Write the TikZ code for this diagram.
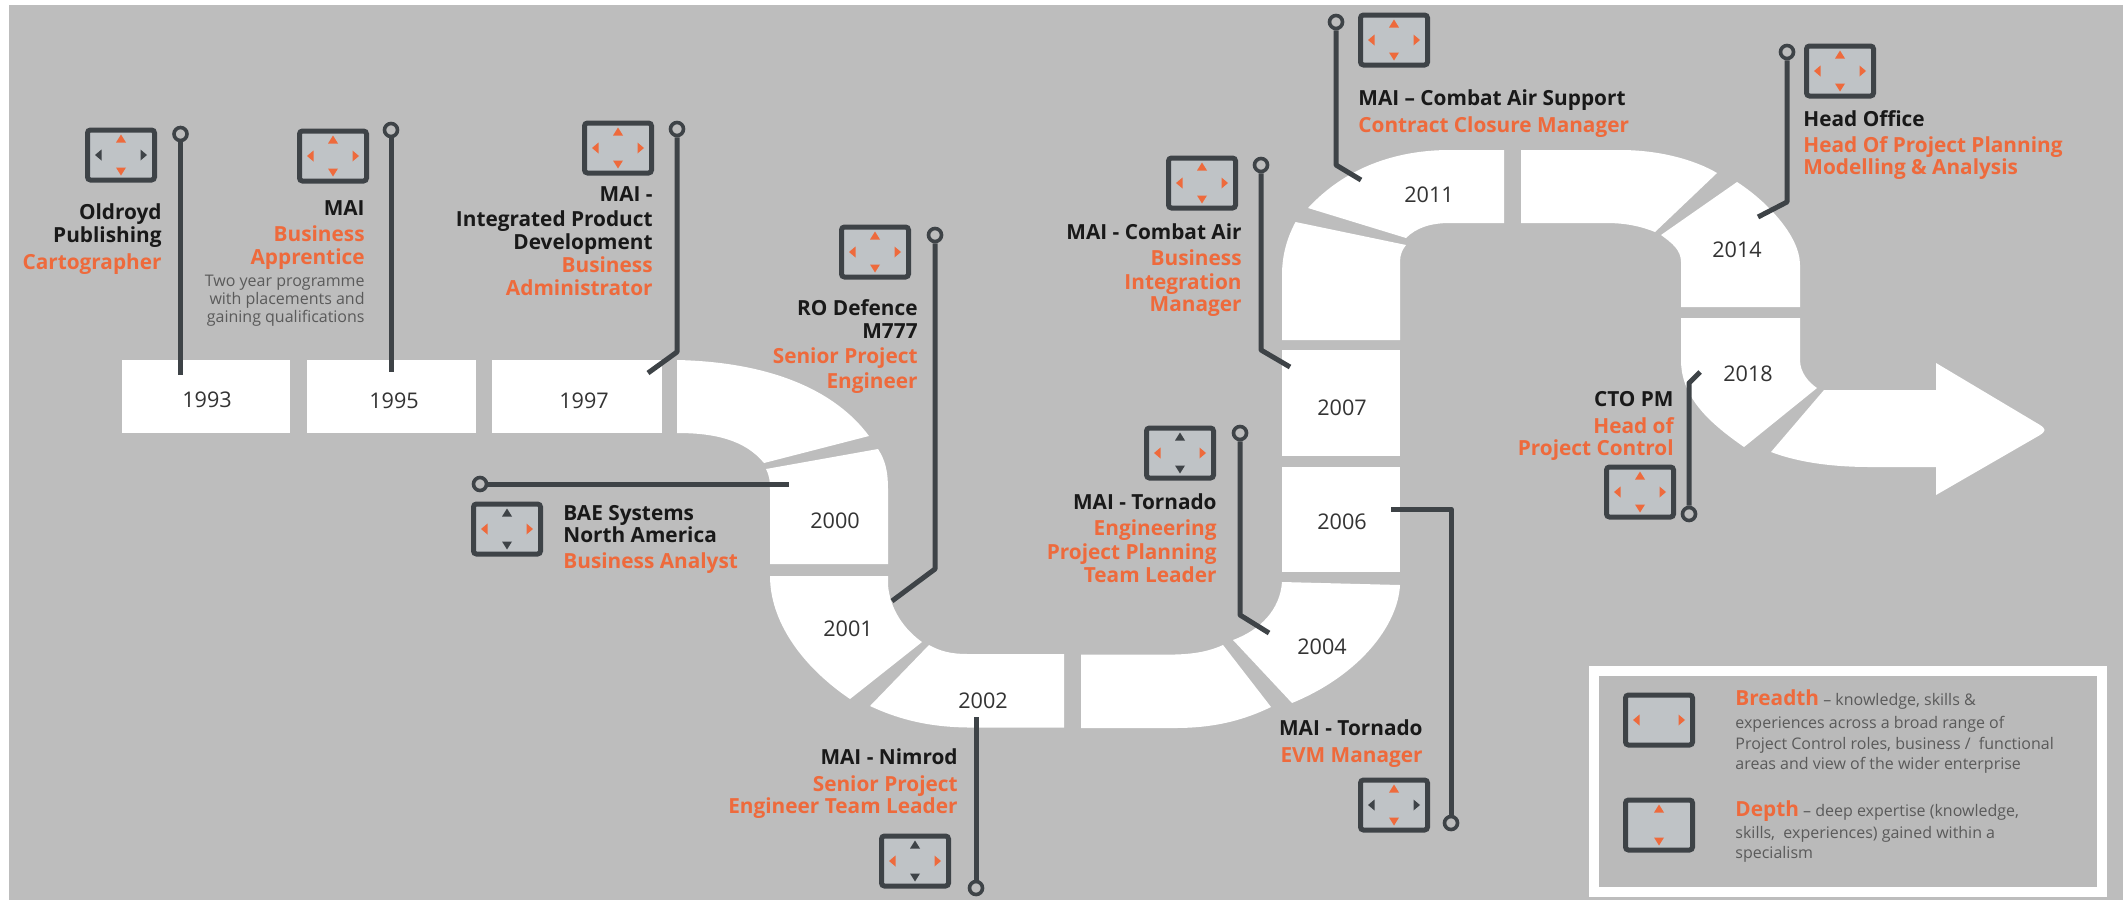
\documentclass[tikz,border=0pt]{standalone}
\usepackage{fontspec}
\setmainfont{Open Sans}
\definecolor{bggray}{HTML}{BDBDBD}
\definecolor{lgfill}{HTML}{BABABA}
\definecolor{dark}{HTML}{3E4347}
\definecolor{orng}{HTML}{EE6A3C}
\definecolor{icofill}{HTML}{BFC3C6}
\definecolor{small}{HTML}{5A5A5A}
\newcounter{lb}
\tikzset{
  seg/.style={fill=white,draw=none},
  year/.style={font=\fontsize{10.8}{12}\selectfont,text=black!80,inner sep=0pt,yshift=-0.8pt},
  bk/.style={font=\fontsize{10.4}{11}\bfseries\selectfont,text=black!90,inner sep=0pt,yshift=-0.5pt},
  og/.style={font=\fontsize{10.4}{11}\bfseries\selectfont,text=orng,inner sep=0pt,yshift=-0.5pt},
  sm/.style={font=\fontsize{8}{9}\selectfont,text=small,inner sep=0pt},
  lg/.style={font=\fontsize{8}{9}\selectfont,text=small,inner sep=0pt},
  conn/.style={draw=dark,line width=2.5pt,line join=round},
  pin/.style={circle,draw=dark,line width=1.8pt,fill=bggray,minimum size=6.5pt,inner sep=0pt},
  ico/.style={rectangle,draw=dark,line width=2.5pt,rounded corners=1.5pt,fill=icofill,minimum width=33.5pt,minimum height=25pt,inner sep=0pt},
}
\newcommand{\txtR}[4]{\stepcounter{lb}\node[#3,anchor=mid east] (t\thelb) at (#1,#2) {#4};}
\newcommand{\txtL}[4]{\stepcounter{lb}\node[#3,anchor=mid west] (t\thelb) at (#1,#2) {#4};}
\newcommand{\triTB}[2]{%
  \fill[#2] ($(#1.center)+(-5,-12.5)$) -- ($(#1.center)+(5,-12.5)$) -- ($(#1.center)+(0,-20.5)$) -- cycle;
  \fill[#2] ($(#1.center)+(-5,12.5)$) -- ($(#1.center)+(5,12.5)$) -- ($(#1.center)+(0,20.5)$) -- cycle;
}
\newcommand{\triLR}[2]{%
  \fill[#2] ($(#1.center)+(-19.5,-5.5)$) -- ($(#1.center)+(-19.5,5.5)$) -- ($(#1.center)+(-26,0)$) -- cycle;
  \fill[#2] ($(#1.center)+(19.5,-5.5)$) -- ($(#1.center)+(19.5,5.5)$) -- ($(#1.center)+(26,0)$) -- cycle;
}
% icon: name, x, y, colour of top/bottom, colour of left/right
\newcommand{\icon}[5]{%
  \node[ico] (#1) at (#2,#3) {};
  \triTB{#1}{#4}
  \triLR{#1}{#5}
}
\usetikzlibrary{calc}
\begin{document}
\begin{tikzpicture}[x=0.5pt,y=-0.5pt]
\useasboundingbox (0,0) rectangle (2123,900);
\fill[white] (0,0) rectangle (2123,900);
\fill[bggray] (9,5) rectangle (2123,900);

% ribbon
\fill[seg] (122,360) rectangle (290,433);
\fill[seg] (307,360) rectangle (476,433);
\fill[seg] (492,360) rectangle (662,433);
\fill[seg] (677,360) .. controls (770,362) and (835,390) .. (869,436) -- (764,463) .. controls (745,440) and (715,433) .. (677,433) -- cycle;
\fill[seg] (766,469) -- (878,449) .. controls (885,460) and (888,470) .. (888,490) -- (888,564) -- (770,564) -- (770,490) .. controls (770,480) and (769,475) .. (766,469) -- cycle;
\fill[seg] (770,576) -- (888,576) -- (888,585) .. controls (890,610) and (905,630) .. (922,642) -- (850,699) .. controls (800,665) and (770,620) .. (770,576) -- cycle;
\fill[seg] (929,645) .. controls (940,651) and (950,654) .. (968,654) -- (1064,654) -- (1064,727.5) -- (968,727.5) .. controls (930,727) and (900,720) .. (870,706) -- cycle;
\fill[seg] (1081,654.5) -- (1175,654.5) .. controls (1195,654) and (1210,651) .. (1223,645) -- (1271,707) .. controls (1240,722) and (1210,728) .. (1175,728) -- (1081,728) -- cycle;
\fill[seg] (1282,582) -- (1400,585) .. controls (1398,625) and (1360,675) .. (1292,703) -- (1233,640) .. controls (1260,630) and (1280,610) .. (1282,582) -- cycle;
\fill[seg] (1282,467) rectangle (1400,572);
\fill[seg] (1282,350) rectangle (1400,456);
\fill[seg] (1282,340) -- (1400,340) -- (1400,262) .. controls (1400,255) and (1402,250) .. (1406,245) -- (1295.5,222) .. controls (1287,238) and (1282,255) .. (1282,275) -- cycle;
\fill[seg] (1308,208) .. controls (1345,168) and (1395,150) .. (1450,150) -- (1504,150) -- (1504,223) -- (1450,223) .. controls (1430,223) and (1416,228) .. (1406,238) -- cycle;
\fill[seg] (1521,150) -- (1620,150) .. controls (1660,150) and (1695,160) .. (1717,173) -- (1655,232) .. controls (1640,226) and (1625,223) .. (1606,223) -- (1521,223) -- cycle;
\fill[seg] (1737,182) .. controls (1765,200) and (1800,235) .. (1800,265) -- (1800,307) -- (1681,307) -- (1681,262) .. controls (1681,250) and (1672,243) .. (1661,235) -- cycle;
\fill[seg] (1681,318) -- (1800,318) -- (1800,360) .. controls (1800,372) and (1808,382) .. (1817,388) -- (1744,447) .. controls (1705,420) and (1681,395) .. (1681,360) -- cycle;
\fill[seg] (1824,390) -- (1936,390) -- (1936,363) -- (2040,425) .. controls (2046,429) and (2046,431) .. (2040,435) -- (1936,495) -- (1936,467) -- (1870,467) .. controls (1835,467) and (1800,463) .. (1771,452) -- cycle;

% year labels
\node[year] (y1993) at (207,398) {1993};
\node[year] (y1995) at (394,399) {1995};
\node[year] (y1997) at (584,399) {1997};
\node[year] (y2000) at (835,519) {2000};
\node[year] (y2001) at (848,627) {2001};
\node[year] (y2002) at (983,699) {2002};
\node[year] (y2004) at (1322,645) {2004};
\node[year] (y2006) at (1342,520) {2006};
\node[year] (y2007) at (1342,406) {2007};
\node[year] (y2011) at (1429,193) {2011};
\node[year] (y2014) at (1737,248) {2014};
\node[year] (y2018) at (1748,372) {2018};

% icons
\icon{iOld}{121}{155}{orng}{dark}
\icon{iMai}{333}{156}{orng}{orng}
\icon{iIpd}{618}{148}{orng}{orng}
\icon{iRo}{875}{252}{orng}{orng}
\icon{iBae}{507}{529}{dark}{orng}
\icon{iNim}{915}{861}{dark}{orng}
\icon{iTor}{1180}{453}{dark}{orng}
\icon{iCa}{1202}{183}{orng}{orng}
\icon{iCas}{1394}{40}{orng}{orng}
\icon{iHo}{1840}{71}{orng}{orng}
\icon{iCto}{1640}{492}{orng}{orng}
\icon{iEvm}{1394}{805}{orng}{dark}

% connectors
\node[pin] (p1) at (180.5,134) {};
\coordinate (e1) at (180.5,375);
\draw[conn] (p1) -- (e1);
\node[pin] (p2) at (391,130) {};
\coordinate (e2) at (391,372);
\draw[conn] (p2) -- (e2);
\node[pin] (p3) at (677,129) {};
\coordinate (b3) at (677,352);
\coordinate (e3) at (648,373);
\draw[conn] (p3) -- (b3) -- (e3);
\node[pin] (p4) at (935,235) {};
\coordinate (b4) at (935,569);
\coordinate (e4) at (892,601);
\draw[conn] (p4) -- (b4) -- (e4);
\node[pin] (p5) at (480,484) {};
\coordinate (e5) at (789,484);
\draw[conn] (p5) -- (e5);
\node[pin] (p6) at (976,888) {};
\coordinate (e6) at (976,717);
\draw[conn] (p6) -- (e6);
\node[pin] (p7) at (1261,165) {};
\coordinate (b7) at (1261,350);
\coordinate (e7) at (1290,367);
\draw[conn] (p7) -- (b7) -- (e7);
\node[pin] (p8) at (1336,22) {};
\coordinate (b8) at (1336,165);
\coordinate (e8) at (1361,180);
\draw[conn] (p8) -- (b8) -- (e8);
\node[pin] (p9) at (1787,52) {};
\coordinate (b9) at (1787,202);
\coordinate (e9) at (1758,217);
\draw[conn] (p9) -- (b9) -- (e9);
\node[pin] (p10) at (1689,514) {};
\coordinate (b10) at (1689,383);
\coordinate (e10) at (1700,372);
\draw[conn] (p10) -- (b10) -- (e10);
\node[pin] (p11) at (1240,433) {};
\coordinate (b11) at (1240,615);
\coordinate (e11) at (1269,633);
\draw[conn] (p11) -- (b11) -- (e11);
\node[pin] (p12) at (1451,823) {};
\coordinate (b12) at (1451,509);
\coordinate (e12) at (1391,509);
\draw[conn] (p12) -- (b12) -- (e12);

% labels
\txtR{162}{213}{bk}{Oldroyd}
\txtR{162}{236}{bk}{Publishing}
\txtR{162}{263}{og}{Cartographer}
\txtR{365}{209}{bk}{MAI}
\txtR{365}{235}{og}{Business}
\txtR{365}{258}{og}{Apprentice}
\txtR{365}{281}{sm}{Two year programme}
\txtR{365}{299}{sm}{with placements and}
\txtR{365}{317}{sm}{gaining qualifications}
\txtR{653}{195}{bk}{MAI -}
\txtR{653}{220}{bk}{Integrated Product}
\txtR{653}{243}{bk}{Development}
\txtR{653}{266}{og}{Business}
\txtR{653}{289}{og}{Administrator}
\txtR{918}{309}{bk}{RO Defence}
\txtR{918}{332}{bk}{M777}
\txtR{918}{357}{og}{Senior Project}
\txtR{918}{382}{og}{Engineer}
\txtL{563}{514}{bk}{BAE Systems}
\txtL{563}{536}{bk}{North America}
\txtL{563}{562}{og}{Business Analyst}
\txtR{958}{758}{bk}{MAI - Nimrod}
\txtR{958}{785}{og}{Senior Project}
\txtR{958}{807}{og}{Engineer Team Leader}
\txtR{1423}{729}{bk}{MAI - Tornado}
\txtR{1423}{756}{og}{EVM Manager}
\txtR{1217}{503}{bk}{MAI - Tornado}
\txtR{1217}{529}{og}{Engineering}
\txtR{1217}{553}{og}{Project Planning}
\txtR{1217}{576}{og}{Team Leader}
\txtR{1242}{233}{bk}{MAI - Combat Air}
\txtR{1242}{259}{og}{Business}
\txtR{1242}{283}{og}{Integration}
\txtR{1242}{305}{og}{Manager}
\txtL{1358}{99}{bk}{MAI – Combat Air Support}
\txtL{1358}{126}{og}{Contract Closure Manager}
\txtL{1803}{120}{bk}{Head Office}
\txtL{1803}{146}{og}{Head Of Project Planning}
\txtL{1803}{168}{og}{Modelling \& Analysis}
\txtR{1674}{400}{bk}{CTO PM}
\txtR{1674}{427}{og}{Head of}
\txtR{1674}{449}{og}{Project Control}

% legend
\draw[white,line width=5pt,fill=lgfill] (1594,671) rectangle (2102,892);
\node[ico] (lgB) at (1659,720) {};
\triLR{lgB}{orng}
\node[ico] (lgD) at (1659,825) {};
\triTB{lgD}{orng}
\txtL{1735}{700}{lg}{{\fontsize{10.4}{11}\bfseries\selectfont\textcolor{orng}{Breadth}} – knowledge, skills \&}
\txtL{1735}{723}{lg}{experiences across a broad range of}
\txtL{1735}{744}{lg}{Project Control roles, business /\ \ functional}
\txtL{1735}{764}{lg}{areas and view of the wider enterprise}
\txtL{1735}{811}{lg}{{\fontsize{10.4}{11}\bfseries\selectfont\textcolor{orng}{Depth}} – deep expertise (knowledge,}
\txtL{1735}{833}{lg}{skills,\ \ experiences) gained within a}
\txtL{1735}{853}{lg}{specialism}
\end{tikzpicture}
\end{document}
